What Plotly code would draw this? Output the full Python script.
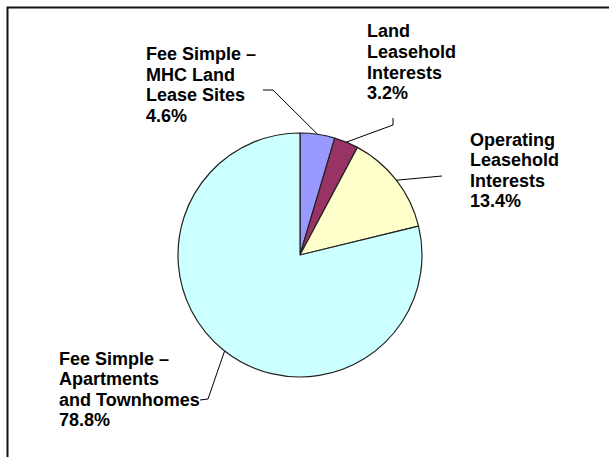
import math
import plotly.graph_objects as go

# ---- data ----
categories = [
    "Fee Simple – MHC Land Lease Sites",
    "Land Leasehold Interests",
    "Operating Leasehold Interests",
    "Fee Simple – Apartments and Townhomes",
]
label_lines = [
    ["Fee Simple –", "MHC Land", "Lease Sites"],
    ["Land", "Leasehold", "Interests"],
    ["Operating", "Leasehold", "Interests"],
    ["Fee Simple –", "Apartments", "and Townhomes"],
]
values = [4.6, 3.2, 13.4, 78.8]
colors = ["#9999FF", "#993366", "#FFFFCC", "#CCFFFF"]

# ---- layout (pixels) ----
W, H = 609, 457
CX, CY, R = 300, 255, 122
label_left = [144, 365, 468, 57]
label_top = [48, 25, 133, 352]
LINE_H = 20.5
FONT_SIZE = 18
leader_outer = [
    [(263, 90), (273, 90)],
    [(393, 118), (393, 125)],
    [(442, 176)],
    [(200, 400), (208, 399)],
]


def X(px):
    return px / W


def Y(py):
    return 1 - py / H


fig = go.Figure(
    go.Pie(
        labels=categories,
        values=values,
        sort=False,
        direction="clockwise",
        rotation=0,
        marker=dict(colors=colors, line=dict(color="#222222", width=1.2)),
        textinfo="none",
        hoverinfo="label+percent",
        domain=dict(x=[X(CX - R), X(CX + R)], y=[Y(CY + R), Y(CY - R)]),
        showlegend=False,
    )
)

annotations = []
shapes = []
total = sum(values)
cum = 0.0
for i, v in enumerate(values):
    mid = (cum + v / 2) / total * 2 * math.pi
    cum += v
    lines = label_lines[i] + [f"{v:.1f}%"]
    for j, t in enumerate(lines):
        annotations.append(
            dict(
                text=t,
                x=X(label_left[i]),
                y=Y(label_top[i] + j * LINE_H + 6.5),
                xref="paper",
                yref="paper",
                xanchor="left",
                yanchor="middle",
                showarrow=False,
                font=dict(family="Liberation Sans, Arial", size=FONT_SIZE, color="black", weight="bold"),
            )
        )
    ix = CX + R * math.sin(mid)
    iy = CY - R * math.cos(mid)
    pts = leader_outer[i] + [(ix, iy)]
    path = "M " + " L ".join(f"{X(px)} {Y(py)}" for px, py in pts)
    shapes.append(dict(type="path", xref="paper", yref="paper", path=path,
                       line=dict(color="black", width=1)))

# outer frame
shapes.append(dict(type="rect", xref="paper", yref="paper",
                   x0=X(7.5), x1=X(W + 20), y0=Y(H + 20), y1=Y(7.5),
                   line=dict(color="#111111", width=2), fillcolor="rgba(0,0,0,0)"))

fig.update_layout(
    width=W,
    height=H,
    margin=dict(l=0, r=0, t=0, b=0),
    paper_bgcolor="white",
    plot_bgcolor="white",
    annotations=annotations,
    shapes=shapes,
)

fig.write_html("out.html")
